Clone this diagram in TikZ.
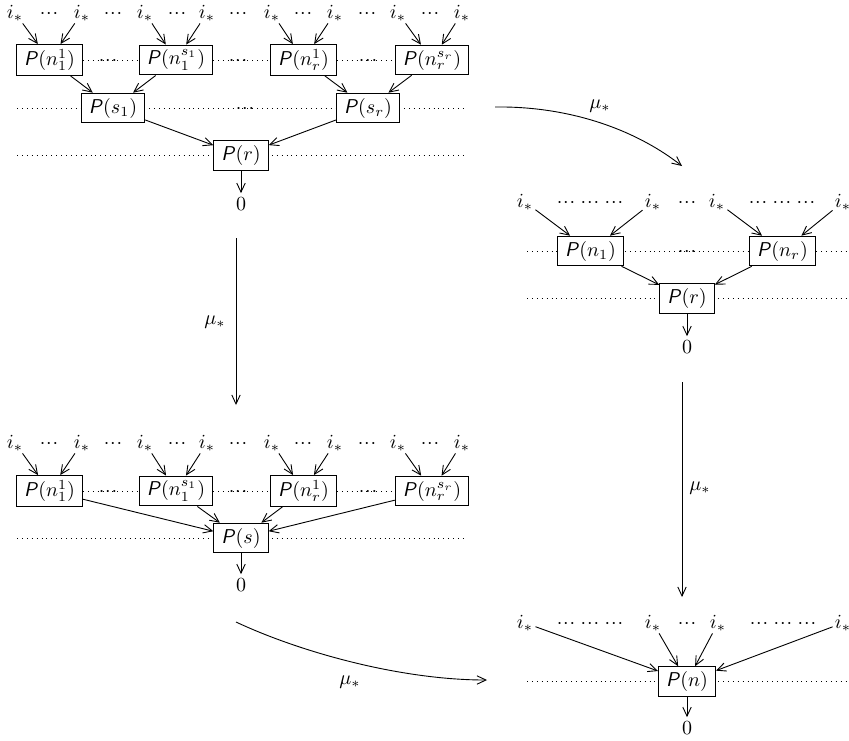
\documentclass[tikz,border=0pt]{standalone}
\usetikzlibrary{arrows.meta}
\newcommand{\Pf}{\textsf{\itshape P}}
\newcommand{\cds}{\mathinner{\mathord{\cdotp}\mkern0.8mu\mathord{\cdotp}\mkern0.8mu\mathord{\cdotp}}}
\newcommand{\cdt}{\cds\mkern2mu\cds\mkern2mu\cds}
\begin{document}
\begin{tikzpicture}[x=0.5pt,y=-0.5pt,
  box/.style={draw, fill=white, inner xsep=3.8pt, inner ysep=2.4pt, minimum height=14.2pt, line width=0.5pt},
  lab/.style={inner sep=1pt, anchor=base},
  zero/.style={inner sep=2pt},
  arr/.style={-{Straight Barb[length=4.5pt,width=4.2pt]}, line width=0.45pt},
  dl/.style={dotted, line width=0.45pt},
  mu/.style={inner sep=1pt}]
\useasboundingbox (0,0) rectangle (849,740);
\clip (0,0) rectangle (849,740);

% ================= top-left diagram =================
\coordinate (tBl) at (17,108);  \coordinate (tBr) at (465,108);
\coordinate (tCl) at (17,155.5);\coordinate (tCr) at (465,155.5);
\draw[dl] (tBl) -- (tBr);
\draw[dl] (tCl) -- (tCr);
\foreach \x [count=\k] in {15,82,145,207,272,335,398,462}
  \node[lab] (ti\k) at (\x,18) {$i_*$};
\foreach \x in {49,113,177,238,303,367,430}
  \node[lab] at (\x,18) {$\cds$};
\node[box] (tA1) at (49.5,60) {\Pf$(n_1^1)$};
\node[box] (tA2) at (176,60) {\Pf$(n_1^{s_1})$};
\node[box] (tA3) at (303.5,60) {\Pf$(n_r^1)$};
\node[box] (tA4) at (432,60) {\Pf$(n_r^{s_r})$};
\draw[dl] (tA1.east) -- (tA2.west);
\draw[dl] (tA2.east) -- (tA3.west);
\draw[dl] (tA3.east) -- (tA4.west);
\foreach \x in {108,238,368} \node[lab] at (\x,65) {$\cds$};
\node[box] (tB1) at (113,108) {\Pf$(s_1)$};
\node[box] (tB2) at (368,108) {\Pf$(s_r)$};
\node[lab] at (245,113) {$\cds$};
\node[box] (tC) at (241,155.5) {\Pf$(r)$};
\node[zero] (t0) at (241,204) {$0$};
\draw[arr] (ti1) -- (tA1); \draw[arr] (ti2) -- (tA1);
\draw[arr] (ti3) -- (tA2); \draw[arr] (ti4) -- (tA2);
\draw[arr] (ti5) -- (tA3); \draw[arr] (ti6) -- (tA3);
\draw[arr] (ti7) -- (tA4); \draw[arr] (ti8) -- (tA4);
\draw[arr] (tA1) -- (tB1); \draw[arr] (tA2) -- (tB1);
\draw[arr] (tA3) -- (tB2); \draw[arr] (tA4) -- (tB2);
\draw[arr] (tB1) -- (tC);  \draw[arr] (tB2) -- (tC);
\draw[arr] (tC) -- (t0);

% ================= top-right diagram =================
\coordinate (rAl) at (527,251);  \coordinate (rAr) at (849,251);
\coordinate (rCl) at (527,298.5);\coordinate (rCr) at (849,298.5);
\draw[dl] (rAl) -- (rAr);
\draw[dl] (rCl) -- (rCr);
\foreach \x [count=\k] in {525,653,717,843}
  \node[lab] (ri\k) at (\x,207) {$i_*$};
\node[lab] at (590,207) {$\cdt$};
\node[lab] at (782,207) {$\cdt$};
\node[lab] at (687,207) {$\cds$};
\node[box] (rA1) at (590.5,251) {\Pf$(n_1)$};
\node[box] (rA2) at (782.5,251) {\Pf$(n_r)$};
\node[lab] at (687,256) {$\cds$};
\node[box] (rC) at (687,298.5) {\Pf$(r)$};
\node[zero] (r0) at (687,347) {$0$};
\draw[arr] (ri1) -- (rA1); \draw[arr] (ri2) -- (rA1);
\draw[arr] (ri3) -- (rA2); \draw[arr] (ri4) -- (rA2);
\draw[arr] (rA1) -- (rC);  \draw[arr] (rA2) -- (rC);
\draw[arr] (rC) -- (r0);

% ================= bottom-left diagram =================
\coordinate (bCl) at (17,538); \coordinate (bCr) at (465,538);
\draw[dl] (bCl) -- (bCr);
\foreach \x [count=\k] in {15,82,145,207,272,335,398,462}
  \node[lab] (bi\k) at (\x,448) {$i_*$};
\foreach \x in {49,113,177,238,303,367,430}
  \node[lab] at (\x,448) {$\cds$};
\node[box] (bA1) at (49.5,491) {\Pf$(n_1^1)$};
\node[box] (bA2) at (176,491) {\Pf$(n_1^{s_1})$};
\node[box] (bA3) at (303.5,491) {\Pf$(n_r^1)$};
\node[box] (bA4) at (432,491) {\Pf$(n_r^{s_r})$};
\draw[dl] (bA1.east) -- (bA2.west);
\draw[dl] (bA2.east) -- (bA3.west);
\draw[dl] (bA3.east) -- (bA4.west);
\foreach \x in {108,238,368} \node[lab] at (\x,496) {$\cds$};
\node[box] (bC) at (241,538) {\Pf$(s)$};
\node[zero] (b0) at (241,585) {$0$};
\draw[arr] (bi1) -- (bA1); \draw[arr] (bi2) -- (bA1);
\draw[arr] (bi3) -- (bA2); \draw[arr] (bi4) -- (bA2);
\draw[arr] (bi5) -- (bA3); \draw[arr] (bi6) -- (bA3);
\draw[arr] (bi7) -- (bA4); \draw[arr] (bi8) -- (bA4);
\draw[arr] (bA1) -- (bC); \draw[arr] (bA2) -- (bC);
\draw[arr] (bA3) -- (bC); \draw[arr] (bA4) -- (bC);
\draw[arr] (bC) -- (b0);

% ================= bottom-right diagram =================
\coordinate (qCl) at (527,681.5); \coordinate (qCr) at (849,681.5);
\draw[dl] (qCl) -- (qCr);
\foreach \x [count=\k] in {525,653,718,843}
  \node[lab] (qi\k) at (\x,628) {$i_*$};
\node[lab] at (590,628) {$\cdt$};
\node[lab] at (783,628) {$\cdt$};
\node[lab] at (687,628) {$\cds$};
\node[box] (qC) at (687,681.5) {\Pf$(n)$};
\node[zero] (q0) at (687,728) {$0$};
\draw[arr] (qi1) -- (qC); \draw[arr] (qi2) -- (qC);
\draw[arr] (qi3) -- (qC); \draw[arr] (qi4) -- (qC);
\draw[arr] (qC) -- (q0);

% ================= maps mu_* =================
\coordinate (m1s) at (495,107); \coordinate (m1e) at (682,166);
\draw[arr] (m1s) .. controls (565,106) and (632,127) .. (m1e);
\node[mu] (m1l) at (600,106) {$\mu_*$};
\coordinate (m2s) at (236,238); \coordinate (m2e) at (236,405);
\draw[arr] (m2s) -- (m2e);
\node[mu] (m2l) at (215,322) {$\mu_*$};
\coordinate (m3s) at (682,382); \coordinate (m3e) at (682,597);
\draw[arr] (m3s) -- (m3e);
\node[mu] (m3l) at (700,488) {$\mu_*$};
\coordinate (m4s) at (236,622); \coordinate (m4e) at (487,680);
\draw[arr] (m4s) .. controls (300,652) and (400,680) .. (m4e);
\node[mu] (m4l) at (350,682) {$\mu_*$};
\end{tikzpicture}
\end{document}
